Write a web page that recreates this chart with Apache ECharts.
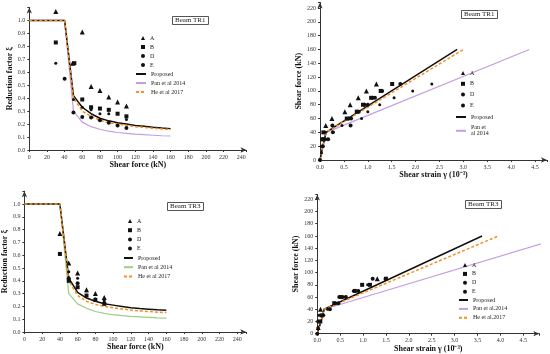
<!DOCTYPE html>
<html><head><meta charset="utf-8">
<script src="https://cdn.jsdelivr.net/npm/echarts@6/dist/echarts.min.js"></script>
<style>html,body{margin:0;padding:0;background:#fff}#c{width:550px;height:354px}</style>
</head><body><div id="c"></div>
<script>
// ---------- DATA ----------
// Beam TR1 – reduction factor vs shear force
const tl_A = [[30,1.07],[49,0.67],[60,0.91],[70,0.49],[80,0.46],[90,0.41],[100,0.37],[110,0.34]];
const tl_B = [[30,0.83],[51,0.67],[60,0.39],[70,0.33],[80,0.32],[90,0.31],[100,0.28],[110,0.26]];
const tl_D = [[30,0.67],[50,0.39],[60,0.33],[70,0.31],[80,0.28],[90,0.28],[110,0.235]];
const tl_E = [[40,0.55],[50,0.29],[60,0.255],[70,0.25],[80,0.23],[90,0.21],[100,0.19],[110,0.17]];
const tl_prop = [[0,1],[40,1],[50,0.42],[60,0.33],[70,0.28],[80,0.245],[90,0.225],[100,0.21],[110,0.2],[120,0.19],[130,0.183],[140,0.176],[150,0.17],[160,0.165]];
const tl_pan = [[0,1],[40,1],[50,0.30],[60,0.215],[70,0.18],[80,0.16],[90,0.145],[100,0.135],[110,0.128],[120,0.122],[130,0.118],[140,0.114],[150,0.11],[160,0.108]];
const tl_he = [[0,1],[40,1],[50,0.40],[60,0.30],[70,0.26],[80,0.23],[90,0.21],[100,0.2],[110,0.19],[120,0.18],[130,0.174],[140,0.168],[150,0.163],[160,0.158]];

// Beam TR1 – shear force vs shear strain
const tr_A = [[0.12,50],[0.25,60],[0.52,70],[0.63,80],[0.8,90],[0.97,100],[1.18,110]];
const tr_B = [[0.05,30],[0.08,30],[0.07,40],[0.56,60],[0.77,70],[0.9,80],[1.07,90],[1.27,100],[1.51,110]];
const tr_D = [[0.03,10],[0.03,20],[0.13,30],[0.11,40],[0.46,50],[0.87,60],[1.0,70],[1.25,80],[1.55,90],[1.94,100],[2.34,110]];
const tr_E = [[0,0],[0.06,20],[0.17,30],[0.26,50],[0.27,40],[0.6,60],[0.64,50],[0.65,60],[0.81,70],[0.93,80],[1.0,80],[1.1,90],[1.15,90],[1.3,100],[1.68,110]];
const tr_prop = [[0,0],[0.06,20],[0.125,40],[2.87,160]];
const tr_pan = [[0,0],[0.06,20],[0.13,40],[4.38,160]];
const tr_he = [[0,0],[0.06,20],[0.13,40],[3.0,160]];

// Beam TR3 – reduction factor vs shear force
const bl_A = [[40,0.77],[50,0.54],[60,0.46],[70,0.33],[80,0.30],[90,0.27]];
const bl_B = [[40,0.61],[50,0.40],[60,0.35],[70,0.285],[80,0.25],[90,0.22]];
const bl_D = [[40,0.605],[50,0.47],[60,0.42],[70,0.32],[80,0.26],[90,0.245]];
const bl_E = [[50,0.42],[60,0.38]];
const bl_prop = [[0,1],[40,1],[50,0.42],[60,0.31],[70,0.265],[80,0.24],[90,0.22],[100,0.21],[110,0.2],[120,0.19],[130,0.183],[140,0.178],[150,0.173],[160,0.17]];
const bl_pan = [[0,1],[40,1],[50,0.30],[60,0.22],[70,0.185],[80,0.16],[90,0.145],[100,0.135],[110,0.128],[120,0.122],[130,0.118],[140,0.114],[150,0.11],[160,0.108]];
const bl_he = [[0,1],[40,1],[50,0.40],[60,0.285],[70,0.24],[80,0.215],[90,0.2],[100,0.19],[110,0.18],[120,0.172],[130,0.165],[140,0.16],[150,0.155],[160,0.152]];

// Beam TR3 – shear force vs shear strain
const br_A = [[0.02,10],[0.07,40],[1.31,90]];
const br_B = [[0.065,20],[0.095,30],[0.37,50],[0.53,60],[0.82,70],[0.98,80],[1.15,80],[1.5,90]];
const br_D = [[0.015,10],[0.036,30],[0.225,40],[0.42,50],[0.58,60],[0.785,70],[1.1,80],[1.48,90]];
const br_E = [[0,0],[0.02,20],[0.13,30],[0.276,40],[0.46,50],[0.48,60],[0.625,60],[0.895,70],[1.21,90]];
const br_prop = [[0,0],[0.08,20],[0.15,40],[3.6,160]];
const br_pan = [[0,0],[0.08,20],[0.15,40],[4.89,147]];
const br_he = [[0,0],[0.08,20],[0.15,40],[3.96,160]];

const titles = ['Beam TR1','Beam TR1','Beam TR3','Beam TR3'];
const xNames = ['Shear force (kN)','Shear strain γ (10⁻³)','Shear force (kN)','Shear strain γ (10⁻³)'];
const yNames = ['Reduction factor ξ','Shear force (kN)','Reduction factor ξ','Shear force (kN)'];
const labels = {
  tl_A:'A',tl_B:'B',tl_D:'D',tl_E:'E',tl_prop:'Proposed',tl_pan:'Pan et al 2014',tl_he:'He et al 2017',
  tr_A:'A',tr_B:'B',tr_D:'D',tr_E:'E',tr_prop:'Proposed',tr_pan:'Pan et\nal 2014',
  bl_A:'A',bl_B:'B',bl_D:'D',bl_E:'E',bl_prop:'Proposed',bl_pan:'Pan et al 2014',bl_he:'He et al 2017',
  br_A:'A',br_B:'B',br_D:'D',br_E:'E',br_prop:'Proposed',br_pan:'Pan et al.2014',br_he:'He et al.2017'
};

// ---------- CHART ----------
const FONT = 'Liberation Serif';
const panels = [
  {p:'tl', grid:{left:29.3,top:7.5,width:217.2,height:142.5}, x:{max:246,interval:20,lim:240,fmt:v=>String(v)}, y:{max:1.1,interval:0.1,lim:1.0,fmt:v=>v.toFixed(1)}, xGap:9, yGap:13,
   sc:{A:tl_A,B:tl_B,D:tl_D,E:tl_E}, ln:{prop:tl_prop,pan:tl_pan,he:tl_he}, pan:'#c49ee0'},
  {p:'tr', grid:{left:320,top:2.5,width:228,height:157.5}, x:{max:4.75,interval:0.5,lim:4.5,fmt:v=>v.toFixed(1)}, y:{max:228,interval:20,lim:220,fmt:v=>String(v)}, xGap:10, yGap:17,
   sc:{A:tr_A,B:tr_B,D:tr_D,E:tr_E}, ln:{prop:tr_prop,pan:tr_pan,he:tr_he}, pan:'#c49ee0'},
  {p:'bl', grid:{left:22.7,top:191.2,width:223.5,height:140.8}, x:{max:250,interval:20,lim:240,fmt:v=>String(v)}, y:{max:1.1,interval:0.1,lim:1.0,fmt:v=>v.toFixed(1)}, xGap:10, yGap:9,
   sc:{A:bl_A,B:bl_B,D:bl_D,E:bl_E}, ln:{prop:bl_prop,pan:bl_pan,he:bl_he}, pan:'#9fce80'},
  {p:'br', grid:{left:317.3,top:194.4,width:222,height:139.3}, x:{max:4.85,interval:0.5,lim:4.5,fmt:v=>v.toFixed(1)}, y:{max:228,interval:20,lim:220,fmt:v=>String(v)}, xGap:10.5, yGap:13,
   sc:{A:br_A,B:br_B,D:br_D,E:br_E}, ln:{prop:br_prop,pan:br_pan,he:br_he}, pan:'#c49ee0'}
];
const symbols = {A:['triangle',5],B:['rect',4],D:['circle',3],E:['circle',4]};
const axisCommon = {
  axisLine:{show:true,lineStyle:{color:'#333',width:1},symbol:['none','arrow'],symbolSize:[4,6]},
  axisTick:{show:true,length:2,lineStyle:{color:'#333'}},
  splitLine:{show:false},
  nameLocation:'middle',
  nameTextStyle:{fontFamily:FONT,fontWeight:'bold',fontSize:8,color:'#111'}
};
const option = {animation:false, backgroundColor:'#fff', grid:[], xAxis:[], yAxis:[], series:[], legend:[], title:[]};
// [scatter legend, line legend] positions
const legendPos = [
  {sl:141, st:35, ll:135, lt:71, gap:3},
  {sl:461, st:70, ll:455, lt:114, gap:4.8},
  {sl:128, st:218, ll:123, lt:255, gap:3.2},
  {sl:463, st:262, ll:458, lt:297, gap:2.9}
];
const lineIconW = [10,10,9,9];
const titlePos = [{left:172,top:16},{left:461,top:10},{left:167,top:202},{left:465,top:200}];

panels.forEach((P,i)=>{
  option.grid.push(Object.assign({containLabel:false},P.grid));
  option.xAxis.push(Object.assign({}, axisCommon, {
    type:'value', gridIndex:i, min:0, max:P.x.max, interval:P.x.interval, name:xNames[i], nameGap:P.xGap,
    axisLabel:{fontFamily:FONT,fontSize:6,color:'#333',margin:4,formatter:v=> v>P.x.lim+1e-9?'':P.x.fmt(v)}
  }));
  option.yAxis.push(Object.assign({}, axisCommon, {
    type:'value', gridIndex:i, min:0, max:P.y.max, interval:P.y.interval, name:yNames[i], nameGap:P.yGap,
    axisLabel:{fontFamily:FONT,fontSize:6,color:'#333',margin:4,formatter:v=> v>P.y.lim+1e-9?'':P.y.fmt(v)}
  }));
  const scNames = [], lnNames = [];
  ['A','B','D','E'].forEach(k=>{
    const nm = P.p+'_'+k; scNames.push(nm);
    option.series.push({type:'scatter', name:nm, xAxisIndex:i, yAxisIndex:i, data:P.sc[k],
      symbol:symbols[k][0], symbolSize:symbols[k][1], itemStyle:{color:'#111',opacity:1}, z:5});
  });
  const lines = [
    ['prop', {color:'#111',width:1.5,type:'solid'}],
    ['pan', {color:P.pan,width:1.2,type:'solid'}],
    ['he', {color:'#f59023',width:1.5,type:[3,2]}]
  ];
  lines.forEach(([k,ls])=>{
    const nm = P.p+'_'+k;
    if (labels[nm]) lnNames.push(nm);
    option.series.push({type:'line', name:nm, xAxisIndex:i, yAxisIndex:i, data:P.ln[k],
      showSymbol:false, symbol:'none', lineStyle:ls, itemStyle:{color:ls.color}, z:k==='prop'?3:(k==='he'?4:2)});
  });
  const L = legendPos[i];
  const txt = {fontFamily:FONT,fontSize:6,lineHeight:6,color:'#222'};
  option.legend.push({orient:'vertical', padding:0, itemWidth:4, itemHeight:4, itemGap:L.gap, data:scNames,
    selectedMode:false, left:L.sl, top:L.st, textStyle:txt, formatter:n=>labels[n]});
  option.legend.push({orient:'vertical', padding:0, itemWidth:lineIconW[i], itemHeight:4, itemGap:L.gap, data:lnNames,
    selectedMode:false, left:L.ll, top:L.lt, textStyle:txt, formatter:n=>labels[n],
    itemStyle:{color:'rgba(0,0,0,0)', borderWidth:0, opacity:0}});
  option.title.push(Object.assign({
    text:titles[i], padding:[1,3], borderWidth:1, borderColor:'#555',
    textStyle:{fontFamily:FONT,fontSize:7,fontWeight:'normal',color:'#222'}
  }, titlePos[i]));
});

const chart = echarts.init(document.getElementById('c'), null, {renderer:'canvas'});
chart.setOption(option);
</script>
</body></html>
